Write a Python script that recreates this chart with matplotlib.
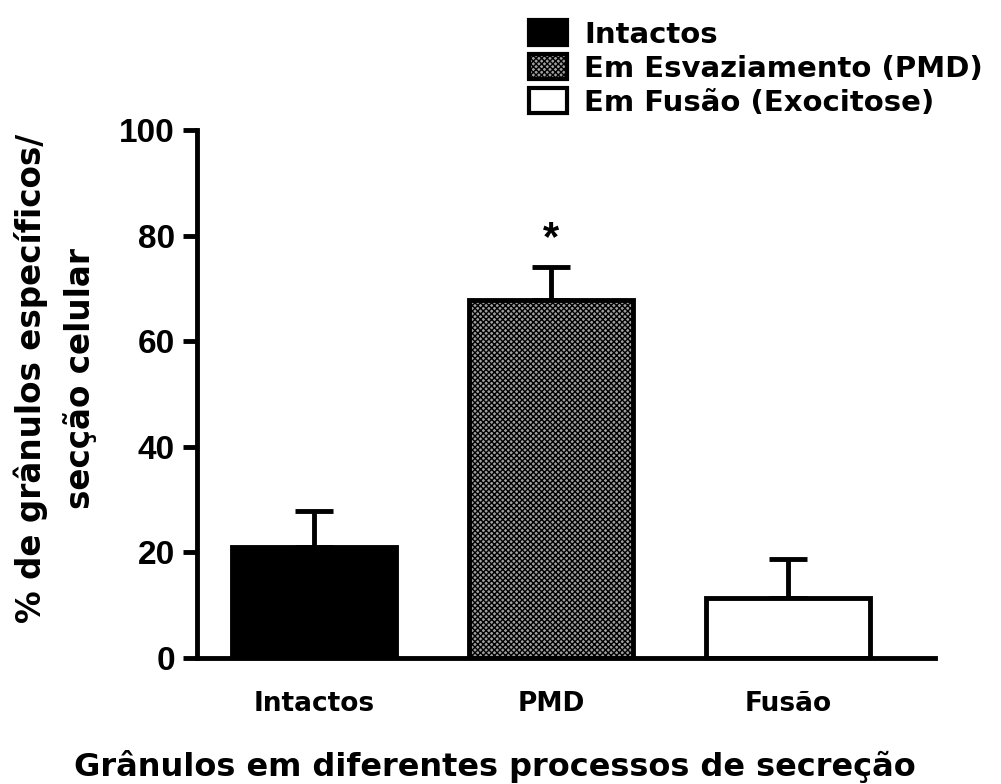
import numpy as np
import matplotlib.pyplot as plt
from matplotlib.patches import Patch

plt.rcParams["font.family"] = ["DejaVu Sans"]
plt.rcParams["font.weight"] = "bold"
plt.rcParams["hatch.linewidth"] = 1.0

categories = ["Intactos", "PMD", "Fusão"]
legend_labels = ["Intactos", "Em Esvaziamento (PMD)", "Em Fusão (Exocitose)"]
means = [21.0, 67.8, 11.4]
sem = [6.9, 6.2, 7.4]
significance = ["", "*", ""]

fig = plt.figure(figsize=(10.01, 7.84), dpi=100)
ax = fig.add_axes([0.197, 0.1607, 0.737, 0.6735])

x = np.arange(len(categories))
styles = [
    dict(facecolor="black", hatch=None),
    dict(facecolor="#a0a0a0", hatch="xxxxxx"),
    dict(facecolor="white", hatch=None),
]
for xi, m, st in zip(x, means, styles):
    ax.bar(xi, m, width=0.69, facecolor=st["facecolor"], edgecolor="black",
           linewidth=3.5, hatch=st["hatch"], zorder=2)

# upper-only error bars
ax.errorbar(x, means, yerr=[np.zeros(len(sem)), sem], fmt="none", ecolor="black",
            elinewidth=3.5, capsize=14, capthick=3.5, zorder=1)

for xi, m, s, mark in zip(x, means, sem, significance):
    if mark:
        ax.text(xi, m + s + 1.5, mark, ha="center", va="bottom", fontsize=30,
                fontweight="bold", family="Liberation Sans")

ax.set_xlim(-0.494, 2.62)
ax.set_ylim(0, 100)
ax.set_yticks([0, 20, 40, 60, 80, 100])
ax.set_xticks(x)
ax.set_xticklabels(categories)
for sp in ["top", "right"]:
    ax.spines[sp].set_visible(False)
for sp in ["left", "bottom"]:
    ax.spines[sp].set_linewidth(3.5)
ax.spines["left"].set_bounds(0, 100)
ax.tick_params(axis="y", length=10, width=3.5, labelsize=24, pad=6)
ax.tick_params(axis="x", length=0, labelsize=19, pad=24)
for lbl in ax.get_yticklabels():
    lbl.set_family("Liberation Sans")

ax.set_ylabel("% de grânulos específicos/\nsecção celular", fontsize=23.5,
              fontweight="bold", linespacing=1.55, ha="center", va="center")
ax.yaxis.set_label_coords(-0.192, 0.53)
ax.set_xlabel("Grânulos em diferentes processos de secreção", fontsize=23,
              fontweight="bold", ha="center", va="center")
ax.xaxis.set_label_coords(0.4037, -0.2064)

handles = [Patch(facecolor=st["facecolor"], edgecolor="black", linewidth=3,
                 hatch=st["hatch"]) for st in styles]
fig.legend(handles, legend_labels, loc="upper left", bbox_to_anchor=(0.518, 0.987),
           frameon=False, fontsize=21, handlelength=1.3, handleheight=0.9,
           handletextpad=0.6, labelspacing=0.2, borderaxespad=0.0, borderpad=0.35)

fig.savefig("out.png", dpi=100)
